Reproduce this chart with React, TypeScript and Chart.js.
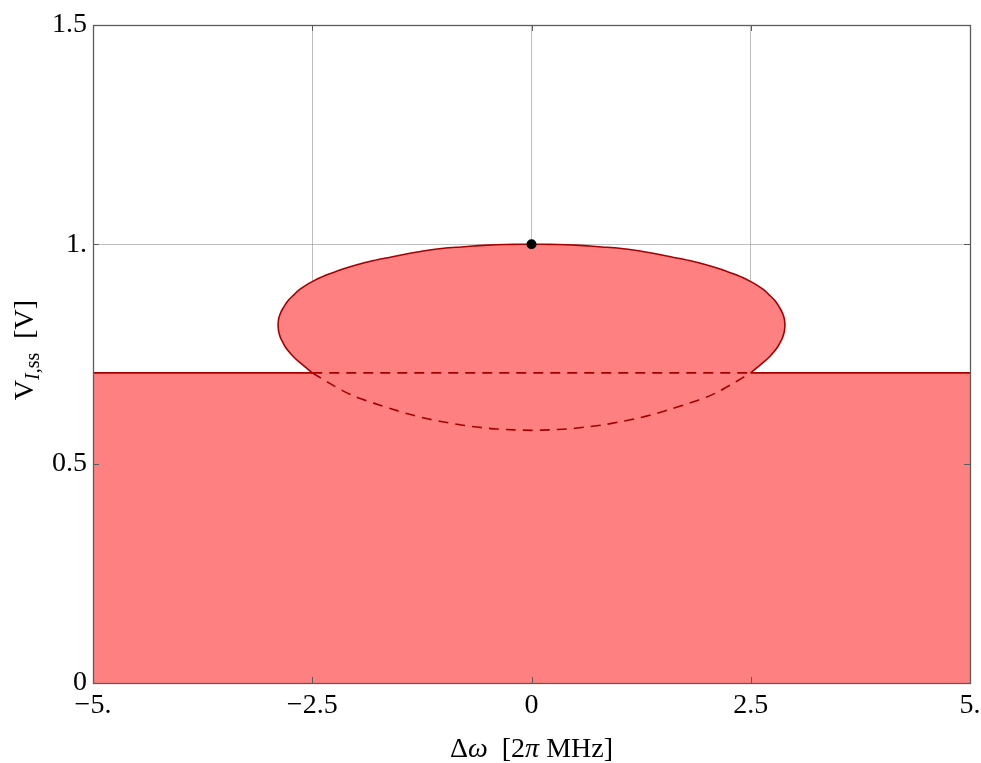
import React, { useEffect, useRef } from "react";
import { Chart, registerables } from "chart.js";

Chart.register(...registerables);

const W = 981;
const H = 763;

// Axis ticks
const xTickValues = [-5, -2.5, 0, 2.5, 5];
const xTickLabels = ["\u22125.", "\u22122.5", "0", "2.5", "5."];
const yTickValues = [0, 0.5, 1, 1.5];
const yTickLabels = ["0", "0.5", "1.", "1.5"];

// Closed steady-state curve, sampled in x (both branches share these x values)
const branchX = [
  -2.89, -2.885, -2.875, -2.86, -2.84, -2.81, -2.77, -2.72, -2.65, -2.57, -2.5, -2.4, -2.3, -2.15, -2.0, -1.8, -1.6, -1.4, -1.2, -1.0, -0.8, -0.6, -0.4, -0.2, 0,
  0.2, 0.4, 0.6, 0.8, 1.0, 1.2, 1.4, 1.6, 1.8, 2.0, 2.15, 2.3, 2.4, 2.5, 2.57, 2.65, 2.72, 2.77, 2.81, 2.84, 2.86, 2.875, 2.885, 2.89,
];
// upper (stable) branch
const upperY = [
  0.816, 0.828, 0.836, 0.844, 0.852, 0.862, 0.873, 0.883, 0.896, 0.907, 0.915, 0.925, 0.933, 0.944, 0.953, 0.963, 0.971, 0.979, 0.986, 0.991, 0.994, 0.997, 0.999, 1.0, 1.0,
  1.0, 0.999, 0.997, 0.994, 0.991, 0.986, 0.979, 0.971, 0.963, 0.953, 0.944, 0.933, 0.925, 0.915, 0.907, 0.896, 0.883, 0.873, 0.862, 0.852, 0.844, 0.836, 0.828, 0.816,
];
// lower branch
const lowerY = [
  0.816, 0.804, 0.795, 0.786, 0.778, 0.767, 0.756, 0.745, 0.732, 0.719, 0.707, 0.695, 0.683, 0.666, 0.652, 0.638, 0.625, 0.613, 0.603, 0.595, 0.588, 0.583, 0.579, 0.577, 0.576,
  0.577, 0.579, 0.583, 0.588, 0.595, 0.603, 0.613, 0.625, 0.638, 0.652, 0.666, 0.683, 0.695, 0.707, 0.719, 0.732, 0.745, 0.756, 0.767, 0.778, 0.786, 0.795, 0.804, 0.816,
];

// Plateau (rectangle) level and its extent
const plateauY = 0.707;
const plateauX = [-5, 5];
const crossX = [-2.5, 2.5];

// Marked point
const dotX = [0];
const dotY = [1];

const PINK = "rgb(255,128,128)";
const DARK = "rgb(165,0,0)";
const FRAME = "#5c5c5c";
const GRID = "rgba(140,140,140,0.55)";
const FONT = "'Liberation Serif', 'Times New Roman', serif";
const NONE = "rgba(0,0,0,0)";
const TENSION = 0.25;

const pts = (xs: number[], ys: number[]) => xs.map((x, i) => ({ x, y: ys[i] }));

const framePlugin = {
  id: "frameAndTitles",
  afterDraw(chart: any) {
    const { ctx, chartArea: a, scales } = chart;
    const xs = scales.x;
    const ys = scales.y;
    ctx.save();
    ctx.strokeStyle = FRAME;
    ctx.lineWidth = 1;
    const tl = 6;
    ctx.beginPath();
    xTickValues.forEach((v) => {
      const px = Math.round(xs.getPixelForValue(v)) + 0.5;
      ctx.moveTo(px, a.bottom);
      ctx.lineTo(px, a.bottom - tl);
      ctx.moveTo(px, a.top);
      ctx.lineTo(px, a.top + tl);
    });
    yTickValues.forEach((v) => {
      const py = Math.round(ys.getPixelForValue(v)) + 0.5;
      ctx.moveTo(a.left, py);
      ctx.lineTo(a.left + tl, py);
      ctx.moveTo(a.right, py);
      ctx.lineTo(a.right - tl, py);
    });
    ctx.stroke();
    ctx.lineWidth = 1.3;
    ctx.strokeRect(Math.round(a.left) + 0.5, Math.round(a.top) + 0.5, Math.round(a.right - a.left), Math.round(a.bottom - a.top));

    // x title
    ctx.fillStyle = "#000";
    ctx.textBaseline = "alphabetic";
    ctx.textAlign = "left";
    const xParts = [
      { t: "\u0394", f: `28px ${FONT}` },
      { t: "\u03c9", f: `italic 28px ${FONT}` },
      { t: "  [2", f: `28px ${FONT}` },
      { t: "\u03c0", f: `italic 28px ${FONT}` },
      { t: " MHz]", f: `28px ${FONT}` },
    ];
    let total = 0;
    xParts.forEach((p) => { ctx.font = p.f; total += ctx.measureText(p.t).width; });
    let cx = (a.left + a.right) / 2 - total / 2;
    xParts.forEach((p) => { ctx.font = p.f; ctx.fillText(p.t, cx, 757); cx += ctx.measureText(p.t).width; });

    // y title (rotated)
    const yParts = [
      { t: "V", f: `28px ${FONT}`, dy: 0 },
      { t: "I", f: `italic 20px ${FONT}`, dy: 6 },
      { t: ",ss", f: `20px ${FONT}`, dy: 6 },
      { t: "  [V]", f: `28px ${FONT}`, dy: 0 },
    ];
    total = 0;
    yParts.forEach((p) => { ctx.font = p.f; total += ctx.measureText(p.t).width; });
    ctx.translate(33, (a.top + a.bottom) / 2 - 4);
    ctx.rotate(-Math.PI / 2);
    let cy = -total / 2;
    yParts.forEach((p) => { ctx.font = p.f; ctx.fillText(p.t, cy, p.dy); cy += ctx.measureText(p.t).width; });
    ctx.restore();
  },
};

export default function App() {
  const ref = useRef<HTMLCanvasElement>(null);
  useEffect(() => {
    const canvas = ref.current;
    if (!canvas) return;
    const lower = pts(branchX, lowerY);
    const lowerSolidLeft = lower.filter((p) => p.x <= crossX[0]);
    const lowerSolidRight = lower.filter((p) => p.x >= crossX[1]);
    const lowerDashed = lower.filter((p) => p.x >= crossX[0] && p.x <= crossX[1]);
    const lineBase = { pointRadius: 0, tension: TENSION, fill: false, borderColor: DARK, borderWidth: 1.6, order: 1 };
    const chart = new Chart(canvas, {
      type: "line",
      data: {
        datasets: [
          { data: pts(branchX, upperY), fill: "+1", backgroundColor: PINK, borderColor: NONE, borderWidth: 0, pointRadius: 0, tension: TENSION, order: 10 },
          { data: lower, fill: false, borderColor: NONE, borderWidth: 0, pointRadius: 0, tension: TENSION, order: 10 },
          { data: pts(plateauX, [plateauY, plateauY]), fill: "origin", backgroundColor: PINK, borderColor: NONE, borderWidth: 0, pointRadius: 0, order: 11 },
          { ...lineBase, data: pts(branchX, upperY) },
          { ...lineBase, data: lowerSolidLeft },
          { ...lineBase, data: lowerSolidRight },
          { ...lineBase, data: lowerDashed, borderDash: [10, 7] },
          { ...lineBase, tension: 0, data: pts([plateauX[0], crossX[0]], [plateauY, plateauY]) },
          { ...lineBase, tension: 0, data: pts([crossX[1], plateauX[1]], [plateauY, plateauY]) },
          { ...lineBase, tension: 0, data: pts(crossX, [plateauY, plateauY]), borderDash: [10, 7] },
          { data: pts(dotX, dotY), showLine: false, pointRadius: 5, pointBackgroundColor: "#000", pointBorderColor: "#000", pointBorderWidth: 0, order: 0 },
        ] as any,
      },
      options: {
        responsive: false,
        animation: false,
        devicePixelRatio: 1,
        layout: { autoPadding: false, padding: { left: 0, top: 25, right: 11, bottom: 0 } },
        plugins: { legend: { display: false }, tooltip: { enabled: false }, title: { display: false } },
        scales: {
          x: {
            type: "linear",
            min: -5,
            max: 5,
            z: 1,
            afterFit: (s: any) => { s.height = 80; s.paddingLeft = 0; s.paddingRight = 0; },
            border: { display: false },
            grid: { color: GRID, lineWidth: 1, drawTicks: false },
            ticks: {
              stepSize: 2.5,
              padding: 6,
              color: "#000",
              font: { family: FONT, size: 28 },
              maxRotation: 0,
              callback: (v: any) => { const i = xTickValues.indexOf(Number(v)); return i >= 0 ? xTickLabels[i] : ""; },
            },
          },
          y: {
            type: "linear",
            min: 0,
            max: 1.5,
            z: 1,
            afterFit: (s: any) => { s.width = 93; s.paddingTop = 0; s.paddingBottom = 0; },
            border: { display: false },
            grid: { color: GRID, lineWidth: 1, drawTicks: false },
            ticks: {
              stepSize: 0.5,
              padding: 6,
              color: "#000",
              font: { family: FONT, size: 28 },
              callback: (v: any) => { const i = yTickValues.indexOf(Number(v)); return i >= 0 ? yTickLabels[i] : ""; },
            },
          },
        },
      } as any,
      plugins: [framePlugin],
    });
    return () => chart.destroy();
  }, []);
  return (
    <div style={{ position: "absolute", left: 0, top: 0, width: W, height: H, background: "#fff" }}>
      <canvas ref={ref} width={W} height={H} style={{ display: "block", width: W, height: H }} />
    </div>
  );
}
